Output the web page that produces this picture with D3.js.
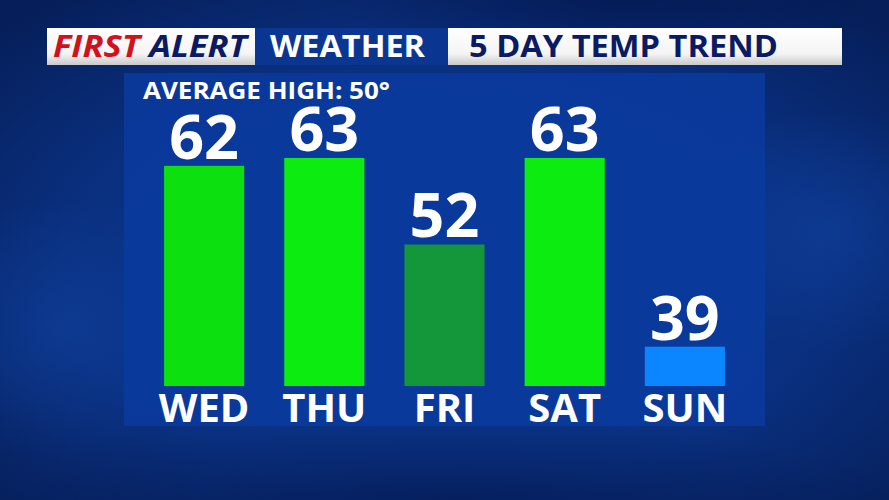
<!DOCTYPE html>
<html>
<head>
<meta charset="utf-8">
<script src="https://cdn.jsdelivr.net/npm/d3@7"></script>
<style>
  body { margin: 0; background: #082a70; }
  svg { display: block; }
  text { font-family: "Open Sans", "DejaVu Sans", sans-serif; font-weight: bold; }
</style>
</head>
<body>
<div class="chart"></div>
<script>
// chart data
var days = ["WED", "THU", "FRI", "SAT", "SUN"];
var highs = [62, 63, 52, 63, 39];
var averageHigh = 50;
var yFloor = 34; // value where the bars start

var width = 889, height = 500;
var panel = {left: 124, top: 73, right: 765, bottom: 426};
var barBase = 386, barTopMax = 158;

var svg = d3.select('.chart')
  .append('svg')
  .attr('width', width)
  .attr('height', height);

var defs = svg.append('defs');

// background
var bg = defs.append('radialGradient').attr('id', 'bgGrad')
  .attr('cx', '50%').attr('cy', '55%').attr('r', '70%');
bg.append('stop').attr('offset', '0%').attr('stop-color', '#0c3992');
bg.append('stop').attr('offset', '60%').attr('stop-color', '#0a3080');
bg.append('stop').attr('offset', '100%').attr('stop-color', '#061f5a');

// soft blobs: radial fade to transparent
function blob(id, c, a) {
  var g = defs.append('radialGradient').attr('id', id);
  g.append('stop').attr('offset', '0%').attr('stop-color', c).attr('stop-opacity', a);
  g.append('stop').attr('offset', '100%').attr('stop-color', c).attr('stop-opacity', 0);
}
blob('lightBlob', '#1146a8', 0.45);
blob('darkBlob', '#03154a', 0.6);

var white = defs.append('linearGradient').attr('id', 'whiteGrad')
  .attr('x1', 0).attr('y1', 0).attr('x2', 0).attr('y2', 1);
white.append('stop').attr('offset', '0%').attr('stop-color', '#ffffff');
white.append('stop').attr('offset', '70%').attr('stop-color', '#f4f4f4');
white.append('stop').attr('offset', '100%').attr('stop-color', '#c9c9c9');

svg.append('rect')
  .attr('width', width).attr('height', height)
  .attr('fill', 'url(#bgGrad)');

var clouds = svg.append('g');
clouds.append('ellipse').attr('cx', 60).attr('cy', 330).attr('rx', 160).attr('ry', 130)
  .attr('fill', 'url(#lightBlob)');
clouds.append('ellipse').attr('cx', 830).attr('cy', 230).attr('rx', 150).attr('ry', 120)
  .attr('fill', 'url(#lightBlob)');
clouds.append('ellipse').attr('cx', 620).attr('cy', 0).attr('rx', 280).attr('ry', 70)
  .attr('fill', 'url(#darkBlob)');
clouds.append('ellipse').attr('cx', 450).attr('cy', 500).attr('rx', 450).attr('ry', 80)
  .attr('fill', 'url(#darkBlob)');

// header
var header = svg.append('g');
header.append('rect').attr('x', 47).attr('y', 28).attr('width', 208).attr('height', 37)
  .attr('fill', 'url(#whiteGrad)');
header.append('rect').attr('x', 255).attr('y', 28).attr('width', 193).attr('height', 37)
  .attr('fill', '#0a3591');
header.append('rect').attr('x', 448).attr('y', 28).attr('width', 394).attr('height', 37)
  .attr('fill', 'url(#whiteGrad)');

var fa = header.append('text')
  .attr('x', 53).attr('y', 57)
  .attr('textLength', 194).attr('lengthAdjust', 'spacingAndGlyphs')
  .style('font-size', '31px').style('font-style', 'italic');
fa.append('tspan').attr('fill', '#d0121c').text('FIRST ');
fa.append('tspan').attr('fill', '#0b1b63').text('ALERT');

header.append('text')
  .attr('x', 270).attr('y', 57)
  .attr('textLength', 155).attr('lengthAdjust', 'spacingAndGlyphs')
  .attr('fill', '#ffffff')
  .style('font-size', '31px')
  .text('WEATHER');

header.append('text')
  .attr('x', 469).attr('y', 57)
  .attr('textLength', 309).attr('lengthAdjust', 'spacingAndGlyphs')
  .attr('fill', '#0b1b63')
  .style('font-size', '31px')
  .text('5 DAY TEMP TREND');

// chart panel
svg.append('rect')
  .attr('x', panel.left).attr('y', panel.top)
  .attr('width', panel.right - panel.left).attr('height', panel.bottom - panel.top)
  .attr('fill', '#0a3a9c').attr('opacity', 0.92);

svg.append('text')
  .attr('x', 143).attr('y', 99)
  .attr('textLength', 247).attr('lengthAdjust', 'spacingAndGlyphs')
  .attr('fill', '#ffffff')
  .style('font-size', '24px')
  .text('AVERAGE HIGH: ' + averageHigh + '°');

var xScale = d3.scaleBand()
  .domain(days)
  .range([panel.left, panel.right])
  .padding(1 / 3);

var yScale = d3.scaleLinear()
  .domain([yFloor, d3.max(highs)])
  .range([barBase, barTopMax]);

var color = d3.scaleOrdinal()
  .domain(days)
  .range(['#0de00f', '#0cec10', '#13973a', '#0cec10', '#0c86ff']);

var data = days.map(function (d, i) { return {day: d, value: highs[i]}; });

var bars = svg.selectAll('g.bar')
  .data(data)
  .enter().append('g')
  .attr('class', 'bar');

bars.append('rect')
  .attr('x', function (d) { return xScale(d.day); })
  .attr('y', function (d) { return yScale(d.value); })
  .attr('width', xScale.bandwidth())
  .attr('height', function (d) { return barBase - yScale(d.value); })
  .attr('fill', function (d) { return color(d.day); });

bars.append('text')
  .attr('x', function (d) { return xScale(d.day) + xScale.bandwidth() / 2; })
  .attr('y', function (d) { return yScale(d.value) - 7; })
  .attr('text-anchor', 'middle')
  .attr('fill', '#ffffff')
  .style('font-size', '61px')
  .text(function (d) { return d.value; });

// day labels via axis
var xAxis = d3.axisBottom(xScale).tickSize(0).tickPadding(0);
var axisG = svg.append('g')
  .attr('transform', 'translate(0,' + barBase + ')')
  .call(xAxis);
axisG.select('.domain').remove();
axisG.selectAll('text')
  .attr('dy', null)
  .attr('y', 36)
  .attr('fill', '#ffffff')
  .style('font-family', '"Open Sans", "DejaVu Sans", sans-serif')
  .style('font-weight', 'bold')
  .style('font-size', '40px');
</script>
</body>
</html>
